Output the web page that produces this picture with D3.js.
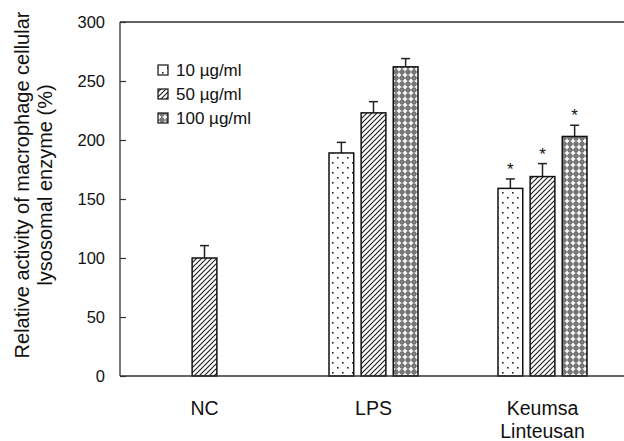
<!DOCTYPE html>
<html><head><meta charset="utf-8">
<script src="https://cdn.jsdelivr.net/npm/d3@7"></script>
<style>body{margin:0;background:#fff}svg{display:block}text{font-family:"Liberation Sans",Arial,sans-serif;fill:#111}</style>
</head><body>
<script>
const categories = ["NC", "LPS", "Keumsa Linteusan"];
const concentrations = ["10 µg/ml", "50 µg/ml", "100 µg/ml"];
const yTicks = [0, 50, 100, 150, 200, 250, 300];
const ncValues = [null, 100, null];
const ncErrors = [null, 10.5, null];
const lpsValues = [189, 223, 262];
const lpsErrors = [9, 9.5, 7];
const klValues = [159, 169, 203];
const klErrors = [8, 11, 9.5];
const klStars = [true, true, true];

const W = 624, H = 441;
const svg = d3.select("body").append("svg").attr("width", W).attr("height", H);
const defs = svg.append("defs");

const p1 = defs.append("pattern").attr("id","p0").attr("patternUnits","userSpaceOnUse").attr("width",10).attr("height",10);
p1.append("rect").attr("width",10).attr("height",10).attr("fill","#fff");
p1.append("rect").attr("x",2).attr("y",2).attr("width",1.6).attr("height",1.6).attr("fill","#222");
p1.append("rect").attr("x",7).attr("y",7).attr("width",1.6).attr("height",1.6).attr("fill","#222");
const p2 = defs.append("pattern").attr("id","p1").attr("patternUnits","userSpaceOnUse").attr("width",5).attr("height",5);
p2.append("rect").attr("width",5).attr("height",5).attr("fill","#fff");
p2.append("path").attr("d","M-1,6 L6,-1 M-1,1 L1,-1 M4,6 L6,4").attr("stroke","#222").attr("stroke-width",1.2);
const p3 = defs.append("pattern").attr("id","p2").attr("patternUnits","userSpaceOnUse").attr("width",6).attr("height",6);
p3.append("rect").attr("width",6).attr("height",6).attr("fill","#777");
p3.append("path").attr("d","M3,0.8 V5.2 M0.8,3 H5.2").attr("stroke","#fff").attr("stroke-width",1.6);

const x0 = d3.scaleBand().domain(categories).range([120, 627]).padding(0);
const x1 = d3.scaleBand().domain(concentrations).range([-44.5, 44.5]).paddingInner(0.23).paddingOuter(0);
const y = d3.scaleLinear().domain([0, 300]).range([376, 22]);

const rows = [];
[[categories[0], ncValues, ncErrors, [false,false,false]],
 [categories[1], lpsValues, lpsErrors, [false,false,false]],
 [categories[2], klValues, klErrors, klStars]].forEach(([c, vals, errs, stars]) => {
  vals.forEach((v, i) => { if (v != null) rows.push({c, k: concentrations[i], i, v, e: errs[i], s: stars[i]}); });
});

const g = svg.append("g");
rows.forEach(d => {
  const cx = x0(d.c) + x0.bandwidth()/2 + x1(d.k) + x1.bandwidth()/2;
  const bw = x1.bandwidth();
  const top = y(d.v + d.e);
  g.append("line").attr("x1",cx).attr("x2",cx).attr("y1",y(d.v)).attr("y2",top).attr("stroke","#222").attr("stroke-width",1.5);
  g.append("line").attr("x1",cx-4.5).attr("x2",cx+4.5).attr("y1",top).attr("y2",top).attr("stroke","#222").attr("stroke-width",1.5);
  g.append("rect").attr("x",cx-bw/2).attr("y",y(d.v)).attr("width",bw).attr("height",y(0)-y(d.v))
    .attr("fill",`url(#p${d.i})`).attr("stroke","#111").attr("stroke-width",1.5);
  if (d.s) g.append("text").attr("x",cx).attr("y",top-4).attr("text-anchor","middle").attr("font-size",17).style("fill","#111").text("*");
});

const yAxis = d3.axisRight(y).tickValues(yTicks).tickSize(6).tickFormat("");
const ya = svg.append("g").attr("transform","translate(120,0)").call(yAxis);
ya.select(".domain").remove();
ya.selectAll("line").attr("stroke","#333").attr("stroke-width",1.2);
svg.append("line").attr("x1",120).attr("x2",120).attr("y1",y(300)).attr("y2",y(0)).attr("stroke","#333").attr("stroke-width",1.3);
svg.append("line").attr("x1",120).attr("x2",624).attr("y1",y(300)).attr("y2",y(300)).attr("stroke","#333").attr("stroke-width",1.3);
svg.append("line").attr("x1",120).attr("x2",624).attr("y1",y(0)).attr("y2",y(0)).attr("stroke","#333").attr("stroke-width",1.5);
svg.append("g").selectAll("text").data(yTicks).join("text")
  .attr("x",105).attr("y",d=>y(d)).attr("dy","0.35em").attr("text-anchor","end").attr("font-size",16.5).text(d=>d);

categories.forEach(c => {
  const cx = x0(c) + x0.bandwidth()/2;
  const words = c === "Keumsa Linteusan" ? ["Keumsa","Linteusan"] : [c];
  words.forEach((w, j) => svg.append("text").attr("x",cx).attr("y",415 + j*23).attr("text-anchor","middle").attr("font-size",19.5).text(w));
});

const yl = svg.append("text").attr("transform","translate(0,185) rotate(-90)").attr("text-anchor","middle").attr("font-size",20);
yl.append("tspan").attr("x",0).attr("y",29).text("Relative activity of macrophage cellular");
yl.append("tspan").attr("x",0).attr("y",52).text("lysosomal enzyme (%)");

concentrations.forEach((k, i) => {
  const ly = 70 + i*24;
  svg.append("rect").attr("x",158).attr("y",ly-5).attr("width",10).attr("height",10).attr("fill",`url(#p${i})`).attr("stroke","#111").attr("stroke-width",1.2);
  svg.append("text").attr("x",176).attr("y",ly).attr("dy","0.35em").attr("font-size",17).text(k);
});
</script>
</body></html>
